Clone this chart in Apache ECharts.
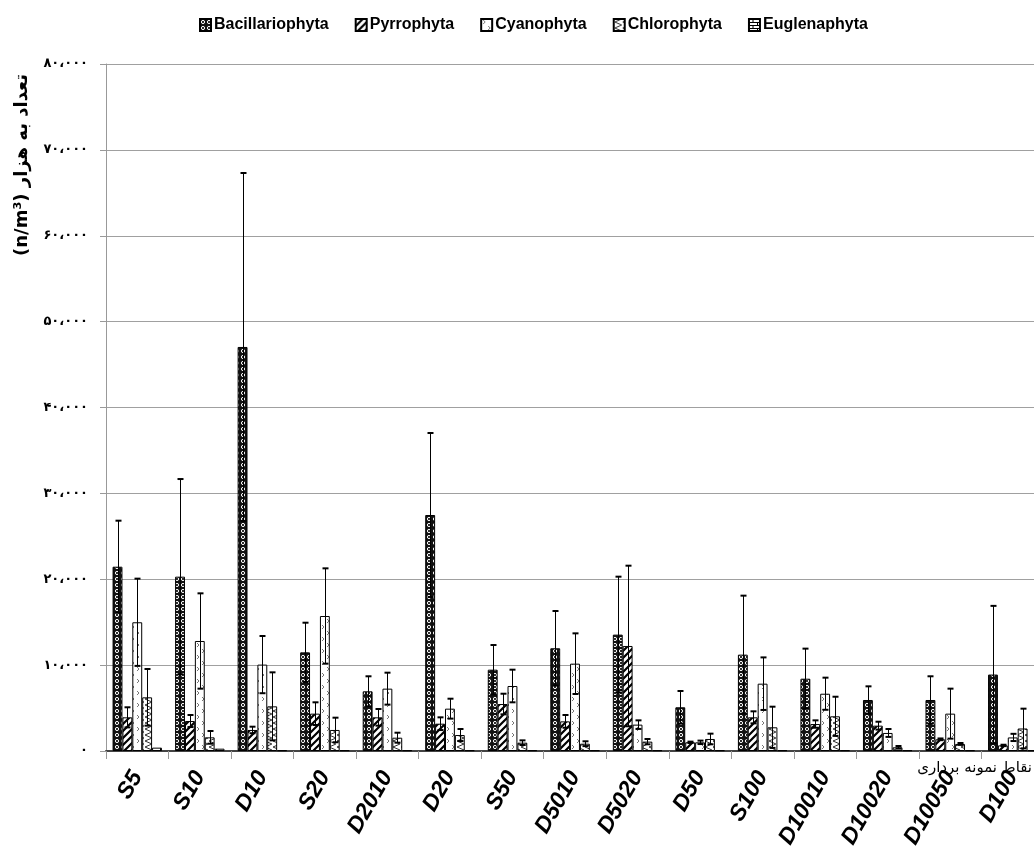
<!DOCTYPE html>
<html>
<head>
<meta charset="utf-8">
<script src="https://cdn.jsdelivr.net/npm/echarts@6/dist/echarts.min.js"></script>
<style>html,body{margin:0;padding:0;background:#fff;overflow:hidden}#c{width:1044px;height:856px}</style>
</head>
<body>
<div id="c"></div>
<script>
const categories = ['S5','S10','D10','S20','D2010','D20','S50','D5010','D5020','D50','S100','D10010','D10020','D10050','D100'];
const seriesNames = ['Bacillariophyta','Pyrrophyta','Cyanophyta','Chlorophyta','Euglenaphyta'];
const bacillariophyta = [21460,20300,47050,11490,6950,27480,9470,11960,13550,5090,11220,8420,5940,5940,8900];
const bacillariophytaErr = [5360,11370,20260,3450,1750,9550,2870,4340,6750,1900,6870,3500,1590,2760,8000];
const pyrrophyta = [3920,3490,2450,4350,3920,3180,5470,3450,12230,1010,3920,3140,2950,1360,650];
const pyrrophytaErr = [1170,700,380,1320,970,740,1200,740,9350,80,700,430,460,100,80];
const cyanophyta = [14990,12810,10060,15720,7260,4930,7570,10170,3070,1010,7840,6670,2100,4350,1580];
const cyanophytaErr = [5080,5550,3330,5550,1860,1160,1900,3530,500,200,3060,1870,460,2910,420];
const chlorophyta = [6250,1590,5200,2450,1550,1860,970,850,1090,1400,2760,4040,430,820,2620];
const chlorophytaErr = [3300,740,3960,1430,580,700,270,280,310,620,2400,2280,150,110,2310];
const euglenaphyta = [390,270,90,90,90,90,90,90,90,90,90,90,90,90,90];
const euglenaphytaErr = [0,0,0,0,0,0,0,0,0,0,0,0,0,0,0];
const yTicks = [0,10000,20000,30000,40000,50000,60000,70000,80000];

const values = [bacillariophyta, pyrrophyta, cyanophyta, chlorophyta, euglenaphyta];
const errors = [bacillariophytaErr, pyrrophytaErr, cyanophytaErr, chlorophytaErr, euglenaphytaErr];

function tile(w, h, draw) {
  const c = document.createElement('canvas');
  c.width = w; c.height = h;
  const g = c.getContext('2d');
  draw(g, w, h);
  return c;
}
const patterns = [
  tile(6, 6, (g) => { g.fillStyle = '#111'; g.fillRect(0,0,6,6); g.strokeStyle = '#fff'; g.lineWidth = 1; g.beginPath(); g.arc(3,3,1.6,0,Math.PI*2); g.stroke(); }),
  tile(7, 7, (g) => { g.fillStyle = '#fff'; g.fillRect(0,0,7,7); g.strokeStyle = '#000'; g.lineWidth = 2.2; g.beginPath(); g.moveTo(-1,8); g.lineTo(8,-1); g.moveTo(-2,2); g.lineTo(2,-2); g.moveTo(5,9); g.lineTo(9,5); g.stroke(); }),
  tile(10, 12, (g) => { g.fillStyle = '#fff'; g.fillRect(0,0,10,12); g.strokeStyle = '#777'; g.lineWidth = 1; g.beginPath(); g.moveTo(2,1); g.lineTo(4,3); g.lineTo(2,5); g.moveTo(7,7); g.lineTo(9,9); g.lineTo(7,11); g.stroke(); }),
  tile(8, 6, (g) => { g.fillStyle = '#fff'; g.fillRect(0,0,8,6); g.strokeStyle = '#333'; g.lineWidth = 1; g.beginPath(); g.moveTo(8,0); g.lineTo(1,3); g.lineTo(8,6); g.stroke(); }),
  tile(8, 6, (g) => { g.fillStyle = '#fff'; g.fillRect(0,0,8,6); g.strokeStyle = '#000'; g.lineWidth = 1; g.beginPath(); g.moveTo(0,0.5); g.lineTo(8,0.5); g.moveTo(0,3.5); g.lineTo(8,3.5); g.moveTo(4,0); g.lineTo(4,3); g.moveTo(0.5,3); g.lineTo(0.5,6); g.stroke(); })
];

const gapRatio = 0.21;
const persianDigits = '۰۱۲۳۴۵۶۷۸۹';
function toPersian(v) {
  if (v === 0) return '۰';
  const s = String(Math.round(v));
  const withSep = s.replace(/\B(?=(\d{3})+(?!\d))/g, '،');
  return withSep.replace(/\d/g, d => persianDigits[+d]);
}

const series = [];
values.forEach((arr, si) => {
  series.push({
    type: 'bar',
    name: seriesNames[si],
    data: arr,
    barGap: '0%',
    barCategoryGap: (gapRatio*100) + '%',
    itemStyle: { color: { image: patterns[si], repeat: 'repeat' }, borderColor: '#000', borderWidth: 1 },
    emphasis: { disabled: true },
    z: 2
  });
});
values.forEach((arr, si) => {
  series.push({
    type: 'custom',
    name: seriesNames[si],
    data: arr.map((v, i) => [i, v, errors[si][i]]),
    encode: { x: 0, y: 1 },
    z: 5,
    silent: true,
    renderItem: function (params, api) {
      const ci = api.value(0), v = api.value(1), e = api.value(2);
      if (!e) return null;
      const catW = api.size([1, 0])[0];
      const bw = catW * (1 - gapRatio) / 5;
      const x = Math.round(api.coord([ci, 0])[0] + (si - 2) * bw) + 0.5;
      const yTop = api.coord([ci, v + e])[1];
      const yBot = api.coord([ci, Math.max(v - e, 0)])[1];
      const cap = 3;
      const st = { stroke: '#000', lineWidth: 1 };
      return { type: 'group', children: [
        { type: 'line', shape: { x1: x, y1: yTop, x2: x, y2: yBot }, style: st },
        { type: 'line', shape: { x1: x - cap, y1: yTop, x2: x + cap, y2: yTop }, style: { stroke: '#000', lineWidth: 2 } },
        { type: 'line', shape: { x1: x - cap, y1: yBot, x2: x + cap, y2: yBot }, style: { stroke: '#000', lineWidth: 2 } }
      ]};
    }
  });
});

const chart = echarts.init(document.getElementById('c'), null, { renderer: 'canvas' });
chart.setOption({
  backgroundColor: '#fff',
  animation: false,
  legend: {
    data: seriesNames,
    top: 12,
    left: 194,
    itemWidth: 11,
    itemHeight: 12,
    itemGap: 26,
    icon: 'rect',
    textStyle: { fontFamily: 'Liberation Sans Narrow, Liberation Sans', fontWeight: 'bold', fontSize: 16, color: '#000', padding: [0,0,0,-2] }
  },
  grid: { left: 106, right: 0, top: 64, bottom: 105, containLabel: false },
  xAxis: {
    type: 'category',
    data: categories,
    axisLine: { lineStyle: { color: '#444', width: 2 } },
    axisTick: { show: true, length: 8, lineStyle: { color: '#999' } },
    axisLabel: { rotate: 60, margin: 22, fontFamily: 'Liberation Sans', fontWeight: 'bold', fontStyle: 'italic', fontSize: 23, color: '#000', interval: 0 }
  },
  yAxis: {
    type: 'value',
    min: 0, max: 80000, interval: 10000,
    axisLine: { show: true, lineStyle: { color: '#999' } },
    axisTick: { show: true, length: 6, lineStyle: { color: '#999' } },
    splitLine: { lineStyle: { color: '#a0a0a0', width: 1 } },
    axisLabel: { formatter: toPersian, margin: 18, fontFamily: 'DejaVu Sans', fontWeight: 'bold', fontSize: 13, color: '#000' }
  },
  graphic: [
    { type: 'text', x: 22, y: 165, rotation: Math.PI / 2, style: { text: '(n/m³) تعداد به هزار', fontFamily: 'DejaVu Sans', fontWeight: 'bold', fontSize: 18, fill: '#000', textAlign: 'center', textVerticalAlign: 'middle' } },
    { type: 'text', x: 1032, y: 768, style: { text: 'نقاط نمونه برداری', fontFamily: 'DejaVu Sans', fontSize: 15, fill: '#000', textAlign: 'right', textVerticalAlign: 'middle' } }
  ],
  series: series
});
</script>
</body>
</html>
